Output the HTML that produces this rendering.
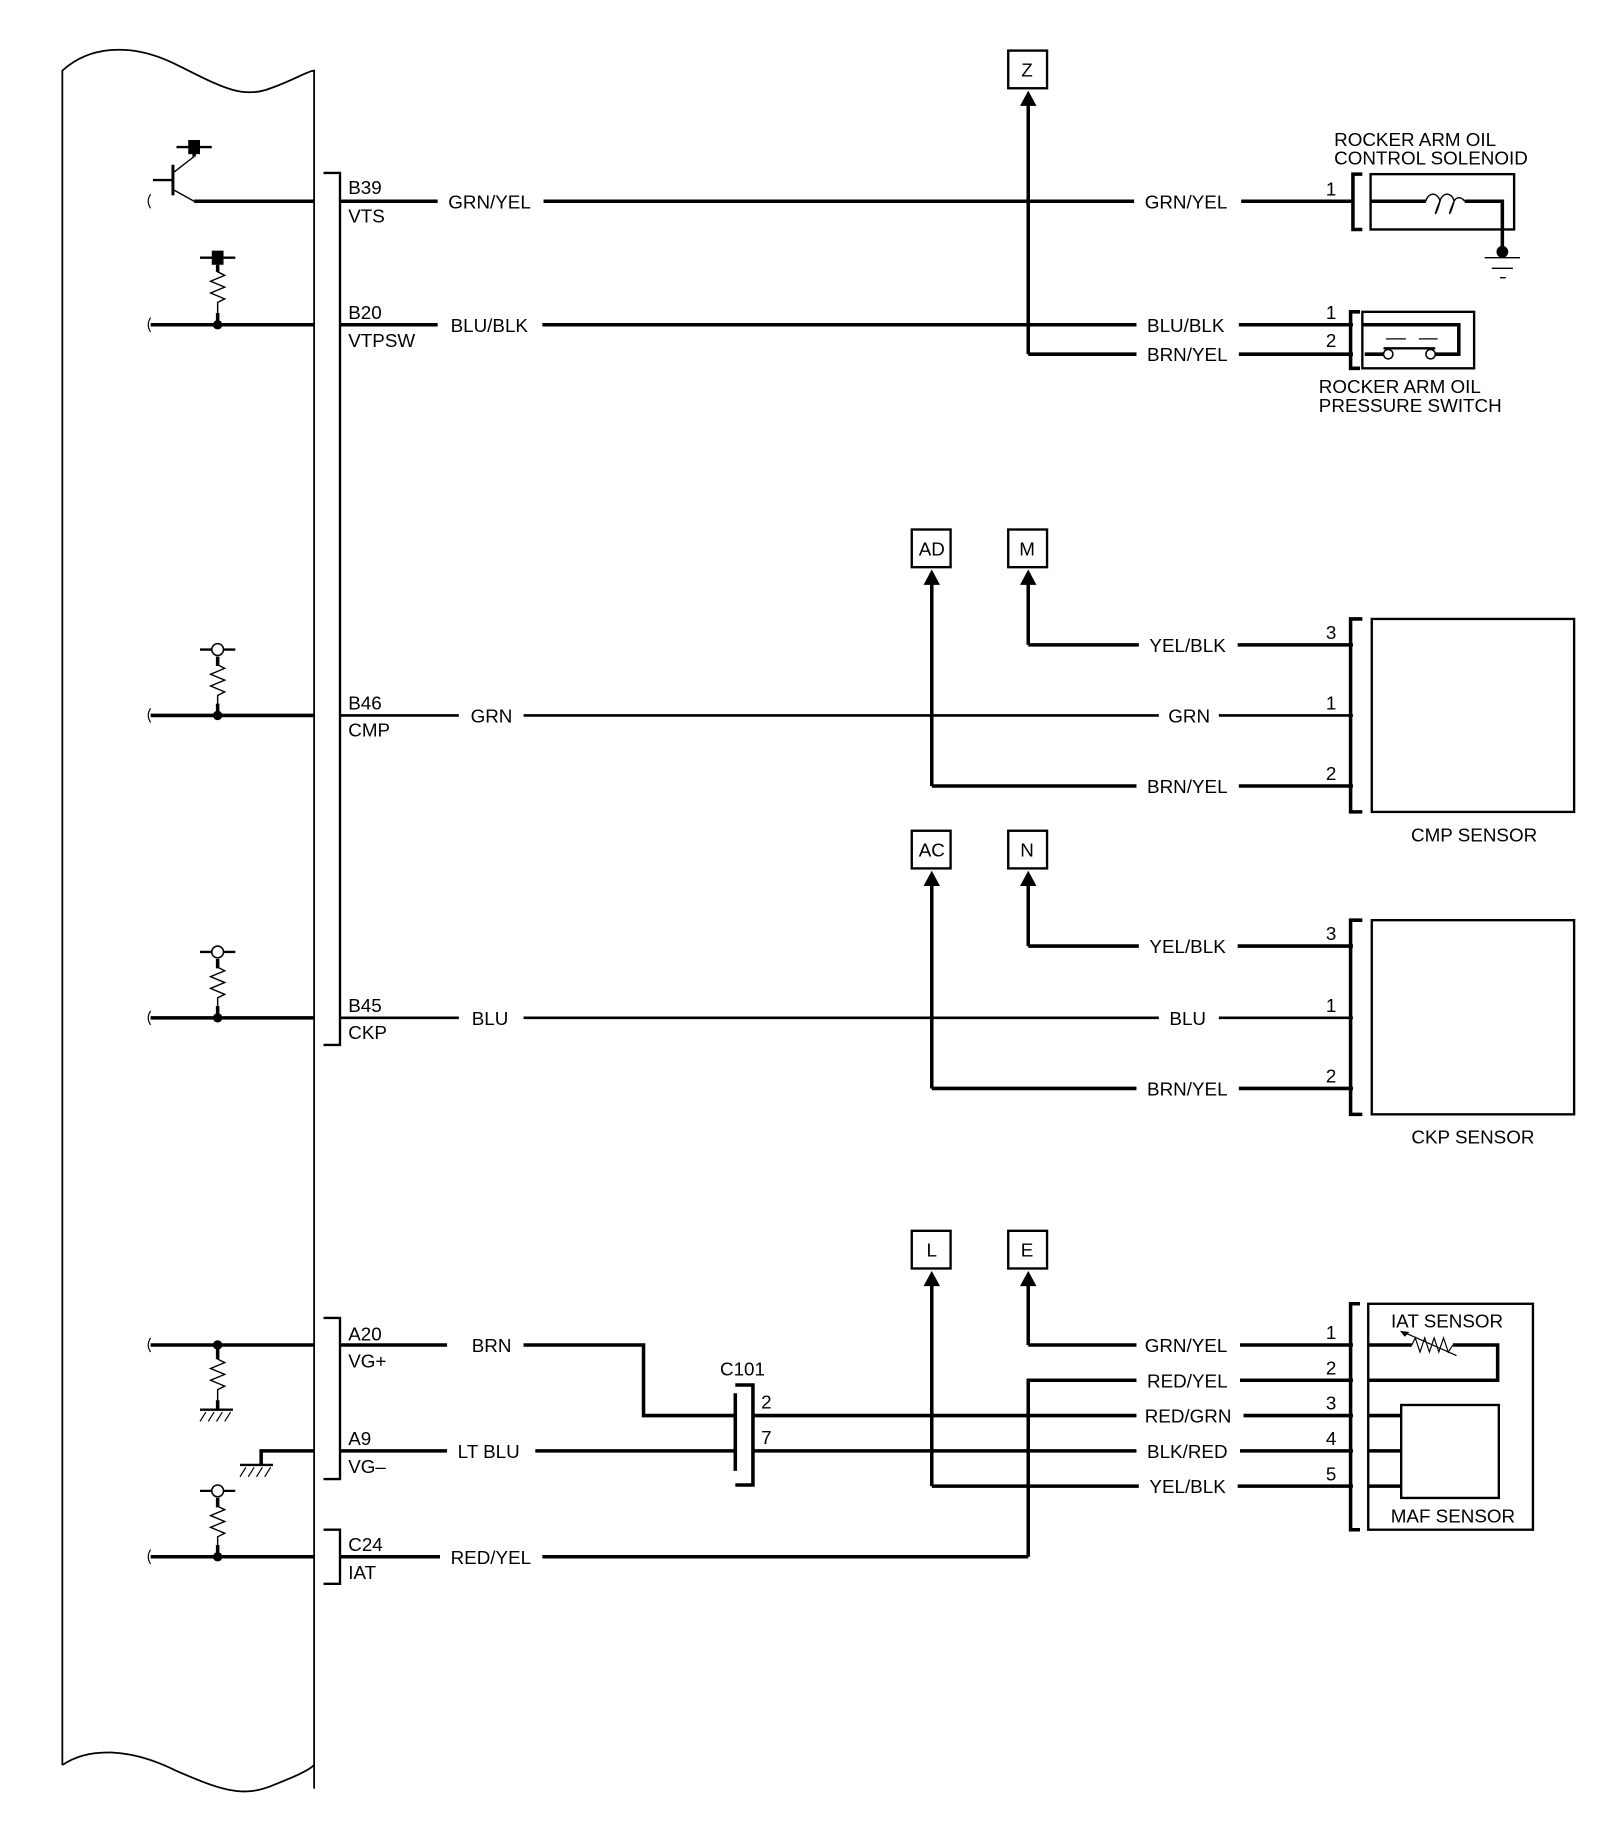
<!DOCTYPE html>
<html><head><meta charset="utf-8"><style>
html,body{margin:0;padding:0;background:#fff}
svg{display:block}
text{font-family:"Liberation Sans",Arial,sans-serif;font-size:16px;fill:#000}
</style></head><body>
<svg width="1600" height="1838" viewBox="0 0 1360 1562" preserveAspectRatio="none" xmlns="http://www.w3.org/2000/svg">
<defs>
<path id="res" d="M0,0 v10 l6,3 l-12,5 l12,5 l-12,5 l12,5 l-6,3 v10" fill="none" stroke="#000" stroke-width="1.2"/>
<path id="sq" d="M0,-6 q-4,6 0,12" fill="none" stroke="#000" stroke-width="1"/>
</defs>
<g fill="none" stroke="#000">
<!-- ECM box -->
<path d="M53,1500 V60 C75,40 110,35 150,55 C185,72 205,85 230,75 C250,68 262,60 267,60 V1520" stroke-width="1.5"/>
<path d="M53,1500 C75,1485 110,1485 150,1505 C185,1520 205,1528 230,1518 C250,1510 262,1505 267,1500" stroke-width="1.5"/>
<!-- connector brackets ECM -->
<path d="M275,147 H289 V888 H275" stroke-width="2"/>
<path d="M275,1120 H289 V1257 H275" stroke-width="2"/>
<path d="M275,1300 H289 V1346 H275" stroke-width="2"/>
</g>
<g fill="none" stroke="#000" stroke-width="3">
<!-- B39 -->
<path d="M165,171 H267 M289,171 H372 M462,171 H964 M1055,171 H1150"/>
<path d="M165,133 V125"/>
<!-- B20 -->
<path d="M128,276 H267 M289,276 H372 M461,276 H966 M1053,276 H1150"/>
<path d="M874,301 H966 M1053,301 H1150"/>
<path d="M874,301 V88"/>
<!-- B46 -->
<path d="M128,608 H267" />
<path d="M874,548 H968 M1052,548 H1150 M874,548 V494"/>
<path d="M792,668 H966 M1053,668 H1150 M792,668 V494"/>
<!-- B45 -->
<path d="M128,865 H267"/>
<path d="M874,804 H968 M1052,804 H1150 M874,804 V751"/>
<path d="M792,925 H966 M1053,925 H1150 M792,925 V751"/>
<!-- A20 -->
<path d="M128,1143 H267 M289,1143 H380 M445,1143 H547 V1203 H625"/>
<path d="M640,1203 H966 M1057,1203 H1150"/>
<!-- A9 -->
<path d="M222,1245 V1233 H267 M289,1233 H380 M455,1233 H625 M640,1233 H966 M1054,1233 H1150"/>
<!-- right group -->
<path d="M874,1143 H966 M1054,1143 H1150 M874,1143 V1090"/>
<path d="M874,1323 V1173 H966 M1054,1173 H1150"/>
<path d="M792,1263 H968 M1052,1263 H1150 M792,1263 V1090"/>
<!-- C24 -->
<path d="M128,1323 H267 M289,1323 H374 M461,1323 H874"/>
<!-- sensor brackets -->
<path d="M1158,148 H1150 V195 H1158"/>
<path d="M1156,265 H1148 V313 H1156"/>
<path d="M1158,526 H1148 V690 H1158"/>
<path d="M1158,782 H1148 V947 H1158"/>
<path d="M1156,1108 H1148 V1300 H1156"/>
<!-- solenoid inner -->
<path d="M1165,171 H1212 M1245,171 H1277 V214"/>
<!-- switch inner -->
<path d="M1158,276 H1240 V301 H1220 M1176,301 H1160"/>
<!-- IAT inner -->
<path d="M1163,1143 H1200 M1235,1143 H1273 V1173 H1163"/>
<path d="M1163,1203 H1191 M1163,1233 H1191 M1163,1263 H1191"/>
<!-- C101 -->
<path d="M625,1184 V1250"/>
<path d="M625,1177 H640 V1262 H625"/>
</g>
<!-- thin GRN / BLU wires -->
<g fill="none" stroke="#000" stroke-width="2.2">
<path d="M289,608 H390 M445,608 H985 M1036,608 H1150"/>
<path d="M289,865 H390 M445,865 H985 M1036,865 H1150"/>
</g>
<g fill="none" stroke="#000" stroke-width="2">
<rect x="1165" y="148" width="122" height="47"/>
<rect x="1158" y="265" width="95" height="48"/>
<rect x="1166" y="526" width="172" height="164"/>
<rect x="1166" y="782" width="172" height="165"/>
<rect x="1163" y="1108" width="140" height="192"/>
<rect x="1191" y="1194" width="83" height="79"/>
<rect x="857" y="43" width="33" height="32"/>
<rect x="775" y="450" width="33" height="32"/>
<rect x="857" y="450" width="33" height="32"/>
<rect x="775" y="706" width="33" height="32"/>
<rect x="857" y="706" width="33" height="32"/>
<rect x="775" y="1046" width="33" height="32"/>
<rect x="857" y="1046" width="33" height="32"/>
</g>
<!-- arrowheads -->
<g fill="#000">
<path d="M874,77 l-7,13 h14 z"/>
<path d="M874,484 l-7,13 h14 z"/><path d="M792,484 l-7,13 h14 z"/>
<path d="M874,740 l-7,13 h14 z"/><path d="M792,740 l-7,13 h14 z"/>
<path d="M874,1080 l-7,13 h14 z"/><path d="M792,1080 l-7,13 h14 z"/>
<!-- dots -->
<circle cx="185" cy="276" r="4"/><circle cx="185" cy="608" r="4"/><circle cx="185" cy="865" r="4"/>
<circle cx="185" cy="1143" r="4"/><circle cx="185" cy="1323" r="4"/>
<circle cx="1277" cy="214" r="5"/>
<!-- power squares -->
<rect x="160" y="119" width="10" height="12"/><rect x="180" y="213" width="10" height="12"/>
</g>
<g fill="none" stroke="#000" stroke-width="2">
<path d="M150,125 H180 M170,219 H200"/>
<!-- transistor -->
<path d="M147,140 V166" stroke-width="2.5"/>
<path d="M130,153 H147"/>
<path d="M147,161 L165,171" stroke-width="1.2"/>
<path d="M147,147 L165,133" stroke-width="1.2"/>
<!-- resistors -->
<path d="M185,225 V231 l6,3 l-12,5 l12,5 l-12,5 l12,5 l-6,3 V276" stroke-width="1.2"/>
<path d="M185,558 V565 l6,3 l-12,5 l12,5 l-12,5 l12,5 l-6,3 V608" stroke-width="1.2"/>
<path d="M185,815 V822 l6,3 l-12,5 l12,5 l-12,5 l12,5 l-6,3 V865" stroke-width="1.2"/>
<path d="M185,1143 V1155 l6,3 l-12,5 l12,5 l-12,5 l12,5 l-6,3 V1198" stroke-width="1.2"/>
<path d="M185,1273 V1280 l6,3 l-12,5 l12,5 l-12,5 l12,5 l-6,3 V1323" stroke-width="1.2"/>
<path d="M185,225 V231 M185,558 V566 M185,815 V823 M185,1143 V1155 M185,1190 V1198 M185,1273 V1281 M185,266 V276 M185,598 V608 M185,855 V865 M185,1313 V1323" stroke-width="3"/>
<!-- open circles -->
<path d="M170,552 H200 M170,809 H200 M170,1267 H200"/>
<!-- grounds -->
<path d="M170,1198 H198 M204,1245 H232"/>
<path d="M1262,219 H1292 M1268,228 H1286 M1275,236 H1280" stroke-width="1.2"/>
<path d="M175,1200 l-5,8 M182,1200 l-5,8 M189,1200 l-5,8 M196,1200 l-5,8 M209,1247 l-5,8 M216,1247 l-5,8 M223,1247 l-5,8 M230,1247 l-5,8" stroke-width="1"/>
<!-- coil -->
<path d="M1212,171 c2,-8 10,-8 12,0 c-6,14 -4,14 0,0 c2,-8 10,-8 12,0 c-6,14 -4,14 0,0 c2,-4 6,-4 9,0" stroke-width="1.2"/>
<!-- switch contacts -->
<path d="M1176,296 H1220"/>
<path d="M1178,288 H1195 M1206,288 H1222" stroke-width="1"/>
<!-- IAT thermistor -->
<path d="M1200,1143 l3,-6 l4,12 l4,-12 l4,12 l4,-12 l4,12 l4,-12 l4,12 l4,-6" stroke-width="1"/>
<path d="M1195,1133 L1238,1152" stroke-width="1"/>
</g>
<g fill="#fff" stroke="#000" stroke-width="1.3">
<circle cx="185" cy="552" r="5"/><circle cx="185" cy="809" r="5"/><circle cx="185" cy="1267" r="5"/>
<circle cx="1180" cy="301" r="4"/><circle cx="1216" cy="301" r="4"/>
</g>
<path d="M1190,1131 l8,1 l-4,4 z" fill="#000"/>
<g fill="none" stroke="#000" stroke-width="1">
<path d="M128,165 q-4,6 0,12 M128,270 q-4,6 0,12 M128,602 q-4,6 0,12 M128,859 q-4,6 0,12 M128,1137 q-4,6 0,12 M128,1317 q-4,6 0,12"/>
</g>
<!-- labels -->
<g>
<text x="296" y="165">B39</text><text x="296" y="189">VTS</text>
<text x="381" y="177">GRN/YEL</text><text x="973" y="177">GRN/YEL</text>
<text x="296" y="271">B20</text><text x="296" y="295">VTPSW</text>
<text x="383" y="282">BLU/BLK</text><text x="975" y="282">BLU/BLK</text>
<text x="975" y="307">BRN/YEL</text>
<text x="296" y="603">B46</text><text x="296" y="626">CMP</text>
<text x="400" y="614">GRN</text><text x="993" y="614">GRN</text>
<text x="977" y="554">YEL/BLK</text><text x="975" y="674">BRN/YEL</text>
<text x="296" y="860">B45</text><text x="296" y="883">CKP</text>
<text x="401" y="871">BLU</text><text x="994" y="871">BLU</text>
<text x="977" y="810">YEL/BLK</text><text x="975" y="931">BRN/YEL</text>
<text x="296" y="1139">A20</text><text x="296" y="1162">VG+</text>
<text x="401" y="1149">BRN</text>
<text x="296" y="1228">A9</text><text x="296" y="1252">VG–</text>
<text x="389" y="1239">LT BLU</text>
<text x="296" y="1318">C24</text><text x="296" y="1342">IAT</text>
<text x="383" y="1329">RED/YEL</text>
<text x="612" y="1169">C101</text>
<text x="647" y="1197">2</text><text x="647" y="1227">7</text>
<text x="973" y="1149">GRN/YEL</text><text x="975" y="1179">RED/YEL</text>
<text x="973" y="1209">RED/GRN</text><text x="975" y="1239">BLK/RED</text>
<text x="977" y="1269">YEL/BLK</text>
<text x="1127" y="166">1</text>
<text x="1127" y="271">1</text><text x="1127" y="295">2</text>
<text x="1127" y="543">3</text><text x="1127" y="603">1</text><text x="1127" y="663">2</text>
<text x="1127" y="799">3</text><text x="1127" y="860">1</text><text x="1127" y="920">2</text>
<text x="1127" y="1138">1</text><text x="1127" y="1168">2</text><text x="1127" y="1198">3</text><text x="1127" y="1228">4</text><text x="1127" y="1258">5</text>
<text x="1134" y="124">ROCKER ARM OIL</text><text x="1134" y="140">CONTROL SOLENOID</text>
<text x="1121" y="334">ROCKER ARM OIL</text><text x="1121" y="350">PRESSURE SWITCH</text>
<text x="1253" y="715" text-anchor="middle">CMP SENSOR</text>
<text x="1252" y="972" text-anchor="middle">CKP SENSOR</text>
<text x="1230" y="1128" text-anchor="middle">IAT SENSOR</text>
<text x="1235" y="1294" text-anchor="middle">MAF SENSOR</text>
<text x="873" y="65" text-anchor="middle">Z</text>
<text x="792" y="472" text-anchor="middle">AD</text><text x="873" y="472" text-anchor="middle">M</text>
<text x="792" y="728" text-anchor="middle">AC</text><text x="873" y="728" text-anchor="middle">N</text>
<text x="792" y="1068" text-anchor="middle">L</text><text x="873" y="1068" text-anchor="middle">E</text>
</g>
</svg>
</body></html>
